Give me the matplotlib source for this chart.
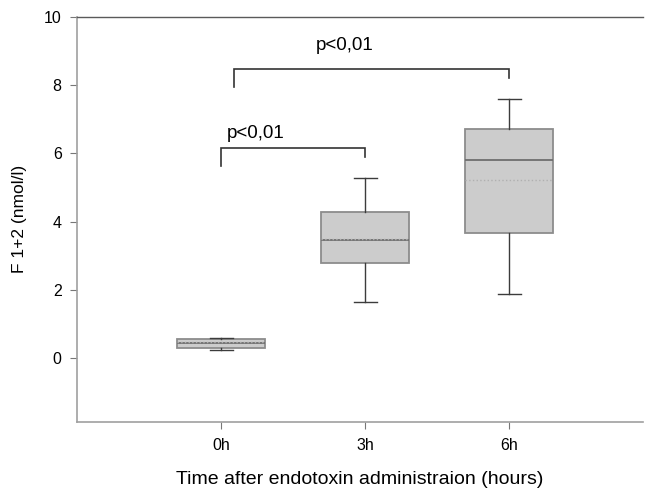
import matplotlib.pyplot as plt

plt.rcParams['font.family'] = ['Liberation Sans', 'DejaVu Sans']

# F 1+2 box summaries per time point (nmol/l)
groups = ['0h', '3h', '6h']
positions = [1, 2, 3]
whisker_low = [0.23, 1.65, 1.88]
q1 = [0.29, 2.77, 3.65]
medians = [0.44, 3.46, 5.80]
means = [0.46, 3.50, 5.22]
q3 = [0.56, 4.27, 6.70]
whisker_high = [0.59, 5.29, 7.59]

# significance brackets:
# (x from, x to, bar height, left leg end, right leg end, label x, label y, label)
brackets = [
    (1.0, 2.0, 6.15, 5.62, 5.88, 1.24, 6.33, 'p<0,01'),
    (1.09, 3.0, 8.47, 7.96, 8.20, 1.86, 8.90, 'p<0,01'),
]

fig = plt.figure(figsize=(6.45, 4.88), dpi=100)
ax = fig.add_axes([0.1194, 0.1359, 0.8775, 0.8293])

stats = []
for i, g in enumerate(groups):
    stats.append(dict(label=g, whislo=whisker_low[i], q1=q1[i], med=medians[i],
                      mean=means[i], q3=q3[i], whishi=whisker_high[i], fliers=[]))

ax.bxp(stats, positions=positions, widths=0.61, patch_artist=True,
       showmeans=True, meanline=True,
       boxprops=dict(facecolor='#cccccc', edgecolor='#8c8c8c', linewidth=1.3),
       medianprops=dict(color='#6e6e6e', linewidth=1.3),
       meanprops=dict(color='#b0b0b0', linestyle=':', linewidth=1.0),
       whiskerprops=dict(color='#3c3c3c', linewidth=1.0),
       capprops=dict(color='#3c3c3c', linewidth=1.0),
       capwidths=0.16)

for x0, x1, y, yl, yr, tx, ty, txt in brackets:
    ax.plot([x0, x0, x1, x1], [yl, y, y, yr], color='#333333', linewidth=1.2,
            solid_joinstyle='miter', clip_on=False)
    ax.text(tx, ty, txt, ha='center', va='bottom', fontsize=13.5)

ax.set_xlim(0, 3.93)
ax.set_ylim(-1.87, 10)
ax.set_yticks([0, 2, 4, 6, 8, 10])
ax.set_xticks(positions)
ax.set_xticklabels(groups)

for side in ['left', 'bottom']:
    ax.spines[side].set_color('#a0a0a0')
    ax.spines[side].set_linewidth(1.2)
ax.spines['top'].set_color('#5a5a5a')
ax.spines['top'].set_linewidth(1.0)
ax.spines['right'].set_visible(False)

ax.tick_params(axis='both', labelsize=11.5, color='#777777', length=5, width=0.8)
ax.tick_params(axis='x', pad=7)
ax.tick_params(axis='y', pad=6)

ax.set_ylabel('F 1+2 (nmol/l)', fontsize=12.5, labelpad=12)
ax.set_xlabel('Time after endotoxin administraion (hours)', fontsize=14, labelpad=13)

fig.savefig('out.png', dpi=100)
